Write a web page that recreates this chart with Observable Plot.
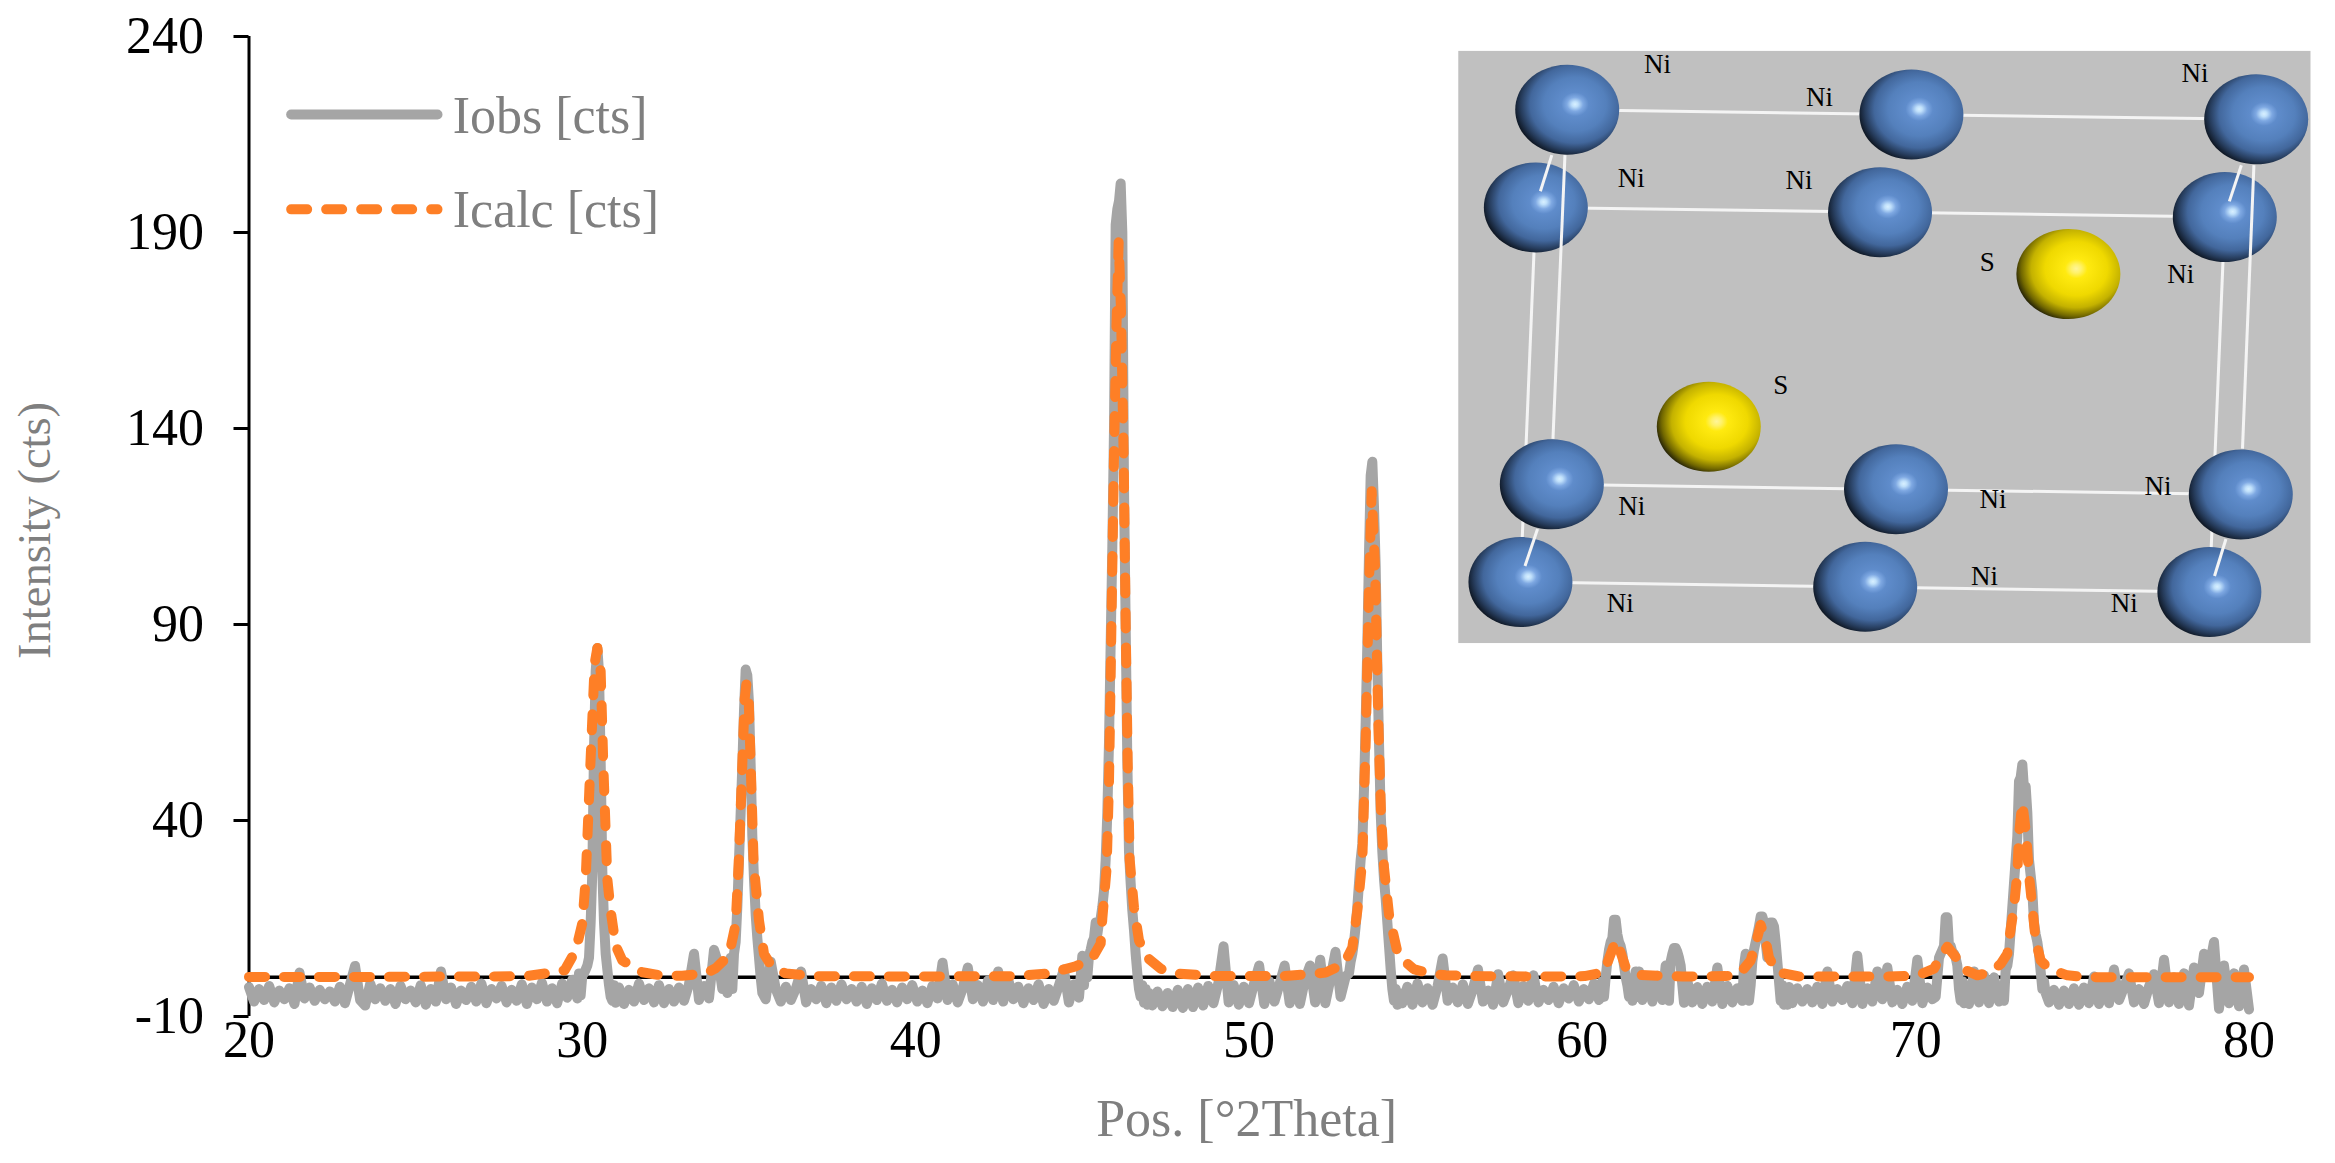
<!DOCTYPE html>
<html><head><meta charset="utf-8">
<script src="https://cdn.jsdelivr.net/npm/d3@7"></script>
<script src="https://cdn.jsdelivr.net/npm/@observablehq/plot@0.6"></script>
<style>html,body{margin:0;padding:0;background:#fff}svg{display:block}</style>
</head><body><div id="chart"></div>
<script>
const xTicks = [20,30,40,50,60,70,80];
const yTicks = [-10,40,90,140,190,240];
const seriesNames = ["Iobs [cts]","Icalc [cts]"];

// Iobs: [first x, last x, values]
const obsBand20 = [20,29.85,[-2.5,-6.2,-3.0,-5.8,-2.2,-6.4,-3.4,-5.6,-2.8,-6.8,1.2,-5.4,-2.6,-6.0,-3.2,-5.6,-3.6,-6.2,-2.4,-6.6,-1.8,2.9,-5.8,-7.2,-1.6,-5.6,-2.8,-6.0,-3.0,-6.8,-2.2,-5.6,-3.4,-6.4,-2.0,-7.0,-3.0,-6.2,1.5,-5.6,-2.6,-6.8,-3.4,-5.8,-2.4,-6.2,-1.6,-6.6,-3.0,-5.4,-2.2,-6.4,-3.2,-6.0,-1.8,-6.8,-2.6,-5.6,-1.4,-6.2,-2.8,-6.6,-1.6,-5.2,-0.6,-5.4]];
const obsPeak30 = [29.9,31.0,[1,-4.6,0.5,1,2,3,5,14,27,58,78,84,78,55,27,14,6,2,-2,-5,-6,-2,-6.5]];
const obsBand31 = [31.1,34.1,[-2.6,-6.8,-3.2,-6.2,-1.6,-5.8,-2.8,-6.4,-2.0,-6.6,-3.0,-6.2,-2.6,-6.0,-1.8,6.0,-5.8,-2.2,-5.4,7.0,3.0]];
const obsPeak35 = [34.2,35.4,[-3,4,2,-4,3,5,-3,6,9,18,30,42,54,68,78.5,77,70,54,36,25,16,10,5,0,-4]];
const obsBand36 = [35.5,44.9,[-5.6,4.0,-3.0,-6.2,-2.4,-5.8,-2.8,1.5,-6.4,-3.0,-5.6,-2.2,-6.6,-2.6,-6.0,-1.8,-5.6,-3.0,-6.2,-2.4,-6.8,-2.8,-5.8,-1.6,-6.0,-3.2,-6.4,-2.6,-5.6,-2.0,-6.2,-3.4,-6.6,-2.2,-5.4,3.7,-5.8,-1.8,-6.4,-2.8,2.5,-5.6,-2.0,-6.2,-0.8,-5.8,1.5,-6.2,-0.6,-5.6,-2.4,-6.6,-2.8,-5.8,-1.8,-6.8,-3.0,-6.0,-2.2,2.0,-6.4,-1.8,-5.2]];
const obsPeak46 = [45,47,[5.5,-2,5,0,5.5,7,9,10,14,11,14,15,18,22,30,42,60,85,110,140,192,196,198,202.5,190,125,90,55,32,24,17,12,6,1,-3,-5,-2,-6.5,-3,-7,-4]];
const obsBand47 = [47.1,52.9,[-7.2,-3.6,-7.4,-4.0,-7.6,-3.2,-7.8,-3.0,-7.6,-2.6,-7.2,-2.2,-6.6,-1.4,7.9,-6.4,-2.0,-7.0,-2.4,-6.6,-1.6,3.0,-6.8,-1.0,-6.2,-1.8,3.0,-6.6,-0.8,-6.8,-0.6,3.0,-6.4,4.5,-6.6,-0.4,6.5,-5.0,0.2]];
const obsPeak54 = [53,54.5,[1,4,6,9,13,18,24,30,34,48,65,85,108,128,131.5,120,105,80,60,42,32,25,20,14,8,2,-3,-6,-3,-7,-4]];
const obsBand55 = [54.6,60.5,[-6.6,-2.4,-7.0,-1.6,-6.4,-2.8,-7.0,-2.2,4.8,-6.0,-2.6,-6.4,-1.8,-6.8,-3.0,2.0,-6.2,-3.4,-7.0,0.8,-6.4,-3.0,0.5,-6.6,-2.2,-6.0,0.5,-6.4,-3.2,-5.8,-2.4,-6.6,-2.8,-5.4,-2.0,-6.2,-3.0,-5.6,-1.6,-5.8]];
const obsPeak61 = [60.6,61.7,[-1,-5,0,4,7,9,10,14.7,14.7,11,9,8,6,3,0,-2,-5,-2,-6,-1,1.5,-5,1.5]];
const obsBand62 = [61.8,62.4,[-5.8,0.2,-6.2,0.4,-5.8]];
const obsBroad63 = [62.5,63.05,[3,1,-6,4,6,7.5,7.5,6.5,5,3,-2,-6.5]];
const obsBand64 = [63.15,64.65,[-1,-6.4,-2.5,-6.8,-2.4,-6.2,2.5,-6.8,-2.2,-6.4,-2.8]];
const obsPeak65 = [64.8,66.2,[-6,3,6,1,-6,-2,4,7,9,11,13,15.5,15.5,14,9,5,9,14,14,13,9,4,-1,-6,-2,-7,-3,-7,-2.5]];
const obsBand67 = [66.3,70.5,[-6.6,-2.8,-6.2,-3.0,-6.4,-2.4,-6.8,1.5,-6.2,-3.0,-5.8,-2.2,-6.6,5.5,-6.8,-2.8,-6.2,1.5,-5.6,2.5,-6.4,-3.2,-6.8,-2.4,-6.0,4.5,-6.6,-2.6,-5.6]];
const obsPeak71 = [70.6,71.5,[-5,0,5,6,7,8,15.3,15.3,8,8,6.5,6,5,3,-3,-6,-1,-6.6,-2]];
const obsBand72 = [71.6,72.5,[-6.8,1.5,-6.4,0.5,-6.6,0.0,-6.2]];
const obsPeak73 = [72.6,73.9,[-5,-6,2,3,6,12,18,24,30,36,50,51,54.3,48,48.7,42,30,26,22,14,11,9,6,1.5,-3,-1,-4]];
const obsBand74 = [74,80,[-6.4,-3.2,-7.0,-3.4,-6.8,-2.8,-7.0,-2.6,-6.6,0.2,-6.8,-2.0,-6.6,2.0,-5.8,-2.6,1.0,-6.4,-3.0,-6.8,-2.4,0.8,-6.6,4.5,-6.4,0.0,-6.8,1.0,-7.2,2.5,-4.0,6.0,2.0,9.0,-8.0,3.0,-6.6,1.0,-7.4,2.0,-8.2]];
const obsRegions = [obsBand20,obsPeak30,obsBand31,obsPeak35,obsBand36,obsPeak46,obsBand47,obsPeak54,obsBand55,obsPeak61,obsBand62,obsBroad63,obsBand64,obsPeak65,obsBand67,obsPeak71,obsBand72,obsPeak73,obsBand74];

const calcX = [20,22,24,26,27,28.3,28.9,29.47,29.8,30,30.1,30.24,30.37,30.45,30.55,30.63,30.75,30.85,31,31.2,31.8,32.35,33,33.7,34,34.4,34.6,34.69,34.8,34.87,34.92,34.99,35.05,35.14,35.3,35.45,35.7,36.1,37,40,43,44,44.8,45.3,45.55,45.6,45.73,45.8,45.9,45.95,46.02,46.09,46.16,46.24,46.3,46.36,46.42,46.55,46.7,46.95,47.35,47.8,49,51,51.8,52.3,52.85,53.1,53.25,53.4,53.5,53.6,53.68,53.78,53.88,53.96,54.05,54.2,54.45,54.6,54.94,55.4,55.9,57,59,60.07,60.65,60.8,61,61.1,61.3,61.65,63,64.3,64.7,65.05,65.2,65.35,65.5,65.6,65.85,66.5,69,70.05,70.55,70.75,70.95,71.2,71.4,71.85,72.25,72.55,72.75,72.8,72.95,73.05,73.1,73.2,73.32,73.4,73.5,73.6,73.75,74,74.55,75.1,80];
const calcY = [0.1,0.1,0.1,0.2,0.2,0.3,1,1.8,6.8,13.8,25,54,80,84,78,54,25,17,8.1,4.3,1.3,0.5,0.4,1,2.3,5.6,13.6,29,54.5,71,74.7,71,54.5,29,14.5,6,2.5,1,0.3,0.2,0.3,1,2.8,4.9,8.6,15,28,50,105,133,165,187.5,170,133,90,55,30,17.8,9.4,5,2.2,1,0.3,0.3,0.8,1.2,3.4,7.6,17,30,60,100,124,105,65,42,28,16,6.5,4.6,2.1,1,0.5,0.3,0.2,0.3,1.3,4.8,9.4,7.6,2.5,0.6,0.2,0.3,0.7,4.3,8.6,13.4,9.4,5,1.3,0.2,0.2,0.4,2.2,5.2,7.8,5.2,2.2,0.5,1.3,3.4,6,9.4,18,26.5,36.5,44.5,36,26,18,9.4,4.3,2.2,0.5,0,0];

// Crystal-structure inset, in the inset's own units
const niAtoms = [[222,197],[825,209],[1429,221],[167,440],[770,452],[1374,464],[195,1129],[798,1141],[1402,1154],[140,1372],[744,1384],[1347,1397]];
const sAtoms = [[1100,606],[470,986]];
const bondsUnder = [[222,197,1429,221],[167,440,1374,464],[195,1129,1402,1154],[140,1372,1347,1397],[167,440,140,1372],[1374,464,1347,1397]];
const bondsOver = [[218,310,197,1016],[1425,335,1405,1040],[195,310,175,400],[1403,335,1382,425],[170,1240,148,1332],[1376,1265,1356,1357]];
const atomLabels = [["Ni",380,85],["Ni",664,167],["Ni",1322,107],["Ni",334,367],["Ni",628,373],["Ni",1297,606],["S",958,576],["S",596,883],["Ni",335,1183],["Ni",968,1167],["Ni",1257,1133],["Ni",953,1357],["Ni",315,1425],["Ni",1198,1425]];
const insetFrame = [[32,52,1525,1525]];

const obs = obsRegions.flatMap(([a,b,v]) => v.map((y,i) => ({x:a+(b-a)*i/(v.length-1), y})));
const calc = calcX.map((x,i) => ({x, y:calcY[i]}));
const ix = u => 20 + (1440 + u*0.5708 - 248.5)/33.333;
const iy = v => 240 - (30 + v*0.402 - 36)/3.92;

const ellipse = {draw(c){
  const rx=52, ry=45, k=0.5523;
  c.moveTo(rx,0);
  c.bezierCurveTo(rx,ry*k,rx*k,ry,0,ry);
  c.bezierCurveTo(-rx*k,ry,-rx,ry*k,-rx,0);
  c.bezierCurveTo(-rx,-ry*k,-rx*k,-ry,0,-ry);
  c.bezierCurveTo(rx*k,-ry,rx,-ry*k,rx,0);
  c.closePath();
}};
const defs = () => {
  const d = d3.create("svg:defs");
  const grad = (id, stops) => {
    const g = d.append("radialGradient").attr("id",id).attr("cx",.575).attr("cy",.44).attr("r",.6).attr("fx",.575).attr("fy",.44);
    stops.forEach(([o,c]) => g.append("stop").attr("offset",o).attr("stop-color",c));
  };
  grad("niGrad",[[0,"#d8f0ff"],[.05,"#c0e0fb"],[.13,"#7ea8e2"],[.22,"#5f8ccb"],[.5,"#5480bc"],[.72,"#42679c"],[.87,"#263c5c"],[1,"#0c131d"]]);
  grad("sGrad",[[0,"#fff59a"],[.08,"#fff26a"],[.18,"#ffea10"],[.5,"#efd900"],[.72,"#c4b200"],[.88,"#726800"],[1,"#1f1d08"]]);
  return d.node();
};

const font = "Liberation Serif";
const gray = "#7f7f7f", obsColor = "#a5a5a5", calcColor = "#fe7f26";
const dash = "16,19";

const chart = Plot.plot({
  width:2335, height:1163,
  marginLeft:248.5, marginRight:86.5, marginTop:36, marginBottom:147,
  style:{fontFamily:font, background:"#fff", color:"#000"},
  x:{domain:[20,80]},
  y:{domain:[-10,240]},
  marks:[
    defs,
    Plot.axisY({ticks:yTicks, tickSize:15, tickPadding:30, fontSize:52, strokeWidth:3, label:null, tickFormat:d=>String(d), fontVariant:"normal"}),
    Plot.axisX({ticks:xTicks, tickSize:0, tickPadding:4, fontSize:52, label:null, tickFormat:d=>String(d), fontVariant:"normal"}),
    Plot.ruleX([20], {stroke:"#000", strokeWidth:3}),
    Plot.ruleY([0], {stroke:"#000", strokeWidth:3.5}),
    Plot.line(obs, {x:"x", y:"y", stroke:obsColor, strokeWidth:10, strokeLinejoin:"round", strokeLinecap:"round"}),
    Plot.line(calc, {x:"x", y:"y", stroke:calcColor, strokeWidth:10, strokeDasharray:dash, strokeLinejoin:"round", strokeLinecap:"round"}),
    // legend
    Plot.ruleY([220.1], {x1:21.28, x2:25.67, stroke:obsColor, strokeWidth:10, strokeLinecap:"round"}),
    Plot.ruleY([195.9], {x1:21.28, x2:25.67, stroke:calcColor, strokeWidth:10, strokeLinecap:"round", strokeDasharray:dash}),
    Plot.text([seriesNames[0]], {x:()=>26.11, y:()=>215.3, text:d=>d, textAnchor:"start", lineAnchor:"bottom", fontSize:52, fill:gray}),
    Plot.text([seriesNames[1]], {x:()=>26.11, y:()=>191.3, text:d=>d, textAnchor:"start", lineAnchor:"bottom", fontSize:52, fill:gray}),
    // axis titles
    Plot.text(["Pos. [°2Theta]"], {x:()=>49.93, y:()=>-40.4, text:d=>d, lineAnchor:"bottom", fontSize:52, fill:gray}),
    Plot.text(["Intensity (cts)"], {x:()=>14.04, y:()=>114, text:d=>d, rotate:-90, lineAnchor:"bottom", fontSize:46.5, fill:gray}),
    // inset
    Plot.rect(insetFrame, {x1:d=>ix(d[0]), y1:d=>iy(d[1]), x2:d=>ix(d[2]), y2:d=>iy(d[3]), fill:"#c0c0c0"}),
    Plot.link(bondsUnder, {x1:d=>ix(d[0]), y1:d=>iy(d[1]), x2:d=>ix(d[2]), y2:d=>iy(d[3]), stroke:"#f4f4f4", strokeWidth:3}),
    Plot.dot(niAtoms, {x:d=>ix(d[0]), y:d=>iy(d[1]), r:1, symbol:ellipse, fill:"url(#niGrad)", stroke:"none"}),
    Plot.dot(sAtoms, {x:d=>ix(d[0]), y:d=>iy(d[1]), r:1, symbol:ellipse, fill:"url(#sGrad)", stroke:"none"}),
    Plot.link(bondsOver, {x1:d=>ix(d[0]), y1:d=>iy(d[1]), x2:d=>ix(d[2]), y2:d=>iy(d[3]), stroke:"#f4f4f4", strokeWidth:3}),
    Plot.text(atomLabels, {x:d=>ix(d[1]), y:d=>iy(d[2]), text:d=>d[0], fontSize:27, fill:"#000"})
  ]
});
document.getElementById("chart").append(chart);
</script>
</body></html>
